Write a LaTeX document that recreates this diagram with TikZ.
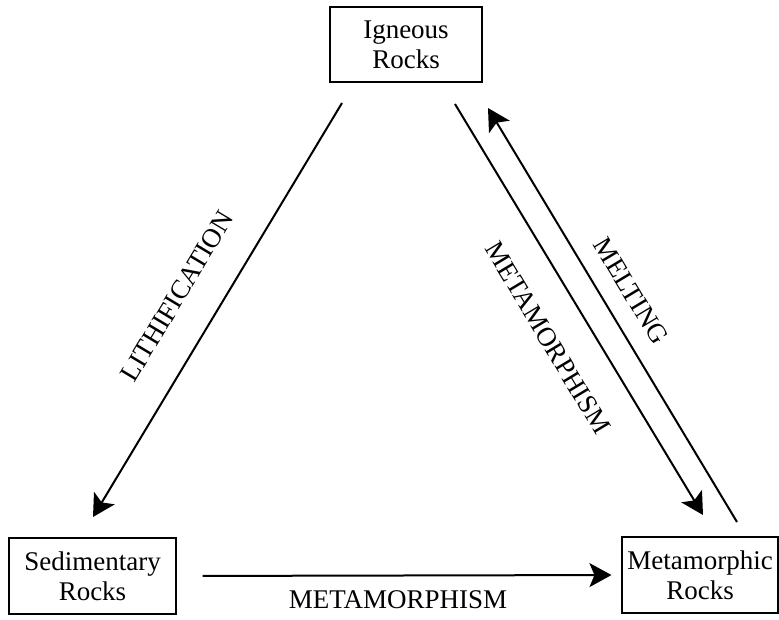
\documentclass[tikz,border=0pt]{standalone}
\usepackage{fontspec}
\setmainfont{Liberation Serif}
\usetikzlibrary{arrows.meta}
\tikzset{
	rock/.style={draw, line width=1.1pt, align=center, inner sep=0pt, font=\fontsize{27}{30}\selectfont},
	flow/.style={line width=2pt, -{Stealth[length=22pt,width=24pt,inset=5pt]}},
	process/.style={inner sep=0pt, font=\fontsize{27}{30}\selectfont},
}

\begin{document}
\begin{tikzpicture}[x=1pt, y=-1pt]
	\useasboundingbox (0,0) rectangle (779,619);
	% rock boxes
	\node[rock, minimum width=152pt, minimum height=75pt] (igneous) at (406,44.5) {Igneous\\Rocks};
	\node[rock, minimum width=167pt, minimum height=76pt] (sedimentary) at (92.5,576) {Sedimentary\\Rocks};
	\node[rock, minimum width=156pt, minimum height=76pt] (metamorphic) at (700,575) {Metamorphic\\Rocks};
	% free ends of the diagonal connectors
	\coordinate (lith-start) at (342,103);
	\coordinate (lith-end) at (93,517);
	\coordinate (meta-start) at (455,104);
	\coordinate (meta-end) at (703,515);
	\coordinate (melt-start) at (737,522);
	\coordinate (melt-end) at (488,108);
	\draw[flow] (lith-start) -- (lith-end);
	\draw[flow] (meta-start) -- (meta-end);
	\draw[flow] (melt-start) -- (melt-end);
	\draw[flow, shorten <=26pt, shorten >=10pt] (sedimentary.east) -- (metamorphic.west);
	% labels
	\node[process, rotate=59] (lithification) at (177,296) {LITHIFICATION};
	\node[process, rotate=-59] (metamorphism-side) at (548,338) {METAMORPHISM};
	\node[process, rotate=-59] (melting) at (631,291) {MELTING};
	\node[process] (metamorphism-base) at (398,600) {METAMORPHISM};
\end{tikzpicture}
\end{document}
